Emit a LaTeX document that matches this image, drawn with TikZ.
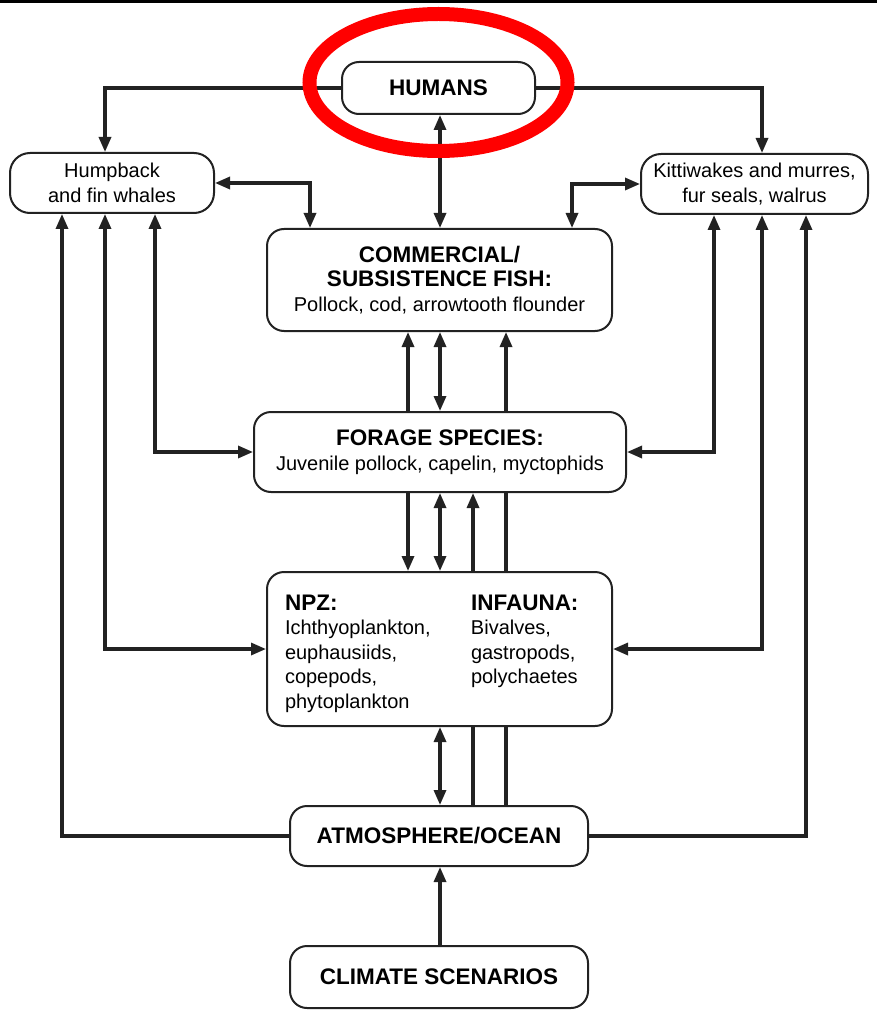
\documentclass[tikz,border=0pt]{standalone}
\usepackage{fontspec}
\setmainfont{Liberation Sans}
\usepackage{xcolor}
\definecolor{ink}{HTML}{222222}
\definecolor{hilite}{HTML}{FF0000}
\usetikzlibrary{positioning,calc,arrows.meta,backgrounds}
\newcommand\hdfont{\bfseries\fontsize{22.5}{24.5}\selectfont}
\newcommand\txfont{\mdseries\fontsize{20}{24.5}\selectfont}

\begin{document}
\begin{tikzpicture}[x=1pt,y=-1pt,font=\txfont,
  box/.style={draw=ink,rounded corners=17pt,fill=white,line width=2pt,align=center,inner sep=0pt},
  hd/.style={font=\hdfont},
  link/.style={draw=ink,line width=3.2pt,-{Triangle[length=15pt,width=12pt]}},
  both/.style={link,{Triangle[length=15pt,width=12pt]}-{Triangle[length=15pt,width=12pt]}}]
  \useasboundingbox (0,0) rectangle (877,1024);
  \fill[black] (0,0) rectangle (877,3.5);
  % boxes
  \node[box,minimum width=193pt,minimum height=52pt,hd] (humans) at (438.5,88) {HUMANS};
  \node[box,minimum width=204pt,minimum height=60pt,rounded corners=20pt] (whales) at (112,183) {Humpback\\and fin whales};
  \node[box,minimum width=227pt,minimum height=60pt,rounded corners=20pt] (birds) at (754.5,184) {Kittiwakes and murres,\\fur seals, walrus};
  \node[box,minimum width=345pt,minimum height=102pt] (fish) at (439.5,280) {\hdfont COMMERCIAL/\\\hdfont SUBSISTENCE FISH:\\Pollock, cod, arrowtooth flounder};
  \node[box,minimum width=372pt,minimum height=80pt] (forage) at (440,452) {\hdfont FORAGE SPECIES:\\Juvenile pollock, capelin, myctophids};
  \node[box,minimum width=345pt,minimum height=154pt] (npz) at (439.5,649) {%
    \begin{tabular}{@{}p{186pt}@{}p{123pt}@{}}
      \rule{0pt}{28pt}\hdfont NPZ: & \hdfont INFAUNA:\\
      Ichthyoplankton, & Bivalves,\\
      euphausiids, & gastropods,\\
      copepods, & polychaetes\\
      phytoplankton &
    \end{tabular}};
  \node[box,minimum width=298pt,minimum height=60pt,hd] (atmo) at (439,836) {ATMOSPHERE/OCEAN};
  \node[box,minimum width=298pt,minimum height=62pt,hd] (climate) at (439,977) {CLIMATE SCENARIOS};
  % columns of the middle links
  \coordinate (c1) at (408,0);
  \coordinate (c2) at (440,0);
  \coordinate (c3) at (473,0);
  \coordinate (c4) at (506,0);
  % humans
  \draw[link] (humans.west) -| ([xshift=-7pt]whales.north);
  \draw[link] (humans.east) -| ([xshift=7.5pt]birds.north);
  \draw[both] (humans.south -| c2) -- (fish.north -| c2);
  \draw[both] (whales.east) -| ([xshift=-129.5pt]fish.north);
  \draw[both] (birds.west) -| ([xshift=132.5pt]fish.north);
  % left column
  \draw[link] (atmo.west) -| ([xshift=-50pt]whales.south);
  \draw[both] (npz.west) -| ([xshift=-7pt]whales.south);
  \draw[both] (forage.west) -| ([xshift=43pt]whales.south);
  % right column
  \draw[both] (forage.east) -| ([xshift=-40.5pt]birds.south);
  \draw[both] (npz.east) -| ([xshift=7.5pt]birds.south);
  \draw[link] (atmo.east) -| ([xshift=51.5pt]birds.south);
  % middle
  \draw[link] (forage.north -| c1) -- (fish.south -| c1);
  \draw[both] (forage.north -| c2) -- (fish.south -| c2);
  \draw[link] (forage.south -| c1) -- (npz.north -| c1);
  \draw[both] (forage.south -| c2) -- (npz.north -| c2);
  \draw[both] (npz.south -| c2) -- (atmo.north -| c2);
  \draw[link] (climate.north -| c2) -- (atmo.south -| c2);
  \begin{scope}[on background layer]
    \draw[link] (atmo.north -| c3) -- (forage.south -| c3);
    \draw[link] (atmo.north -| c4) -- (fish.south -| c4);
  \end{scope}
  % highlight
  \draw[hilite,line width=14pt] ([yshift=5.5pt]humans.center) ellipse [x radius=129pt,y radius=68.5pt];
\end{tikzpicture}
\end{document}
